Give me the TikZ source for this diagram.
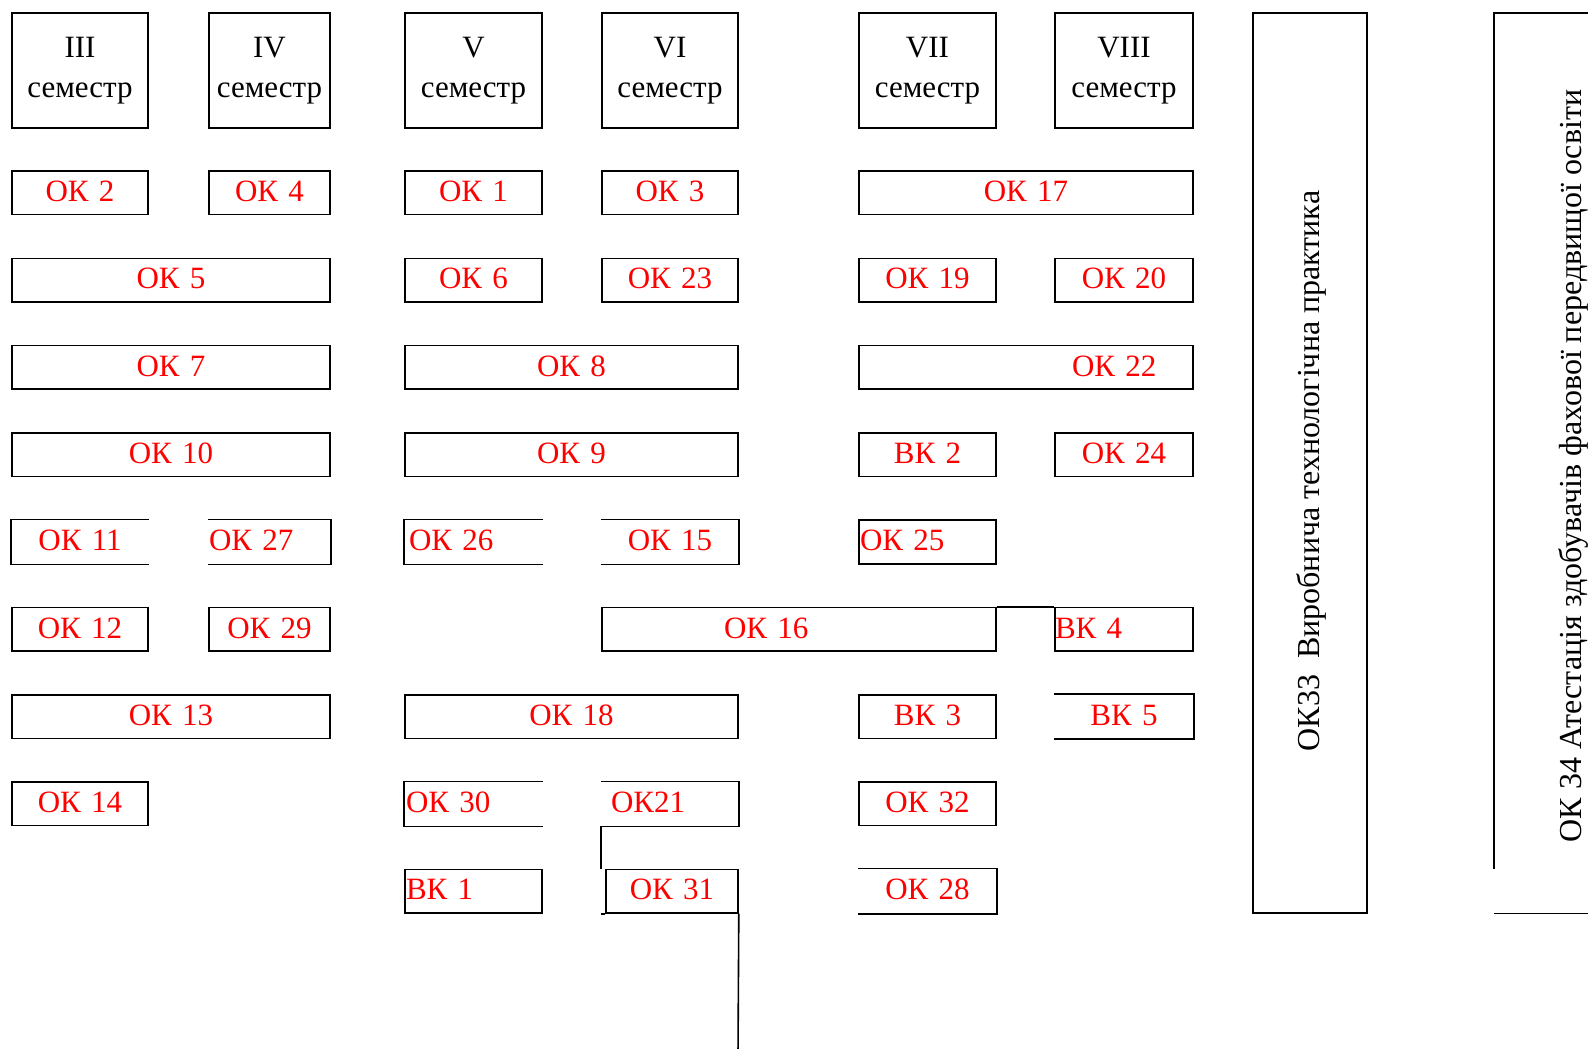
\documentclass[tikz,border=0pt]{standalone}
\usepackage{fontspec}
\setmainfont{Liberation Serif}

\tikzset{
  frame/.style={line width=1.6pt},
  cell/.style={draw, frame, inner sep=0pt, minimum height=43.5pt,
    text height=22pt, text depth=4.5pt, text=red,
    font=\fontsize{31}{37}\selectfont, align=center},
  bare/.style={draw=none},
  head/.style={draw, frame, inner sep=0pt, minimum height=115pt,
    font=\fontsize{31}{40}\selectfont, align=center},
  vtext/.style={rotate=90, anchor=base, inner sep=0pt,
    font=\fontsize{32}{38}\selectfont}
}
% boxes with one side left open
\newcommand\boxopenR[1]{\draw[frame] (#1.north east) -- (#1.north west) -- (#1.south west) -- (#1.south east);}
\newcommand\boxopenL[1]{\draw[frame] (#1.north west) -- (#1.north east) -- (#1.south east) -- (#1.south west);}

\begin{document}
\begin{tikzpicture}[x=1pt,y=-1pt]
\useasboundingbox (0,0) rectangle (1588,1049);

% semester headers
\node[head, text width=136pt] (s3) at (80,70.5)   {III\\семестр};
\node[head, text width=121pt] (s4) at (269.5,70.5) {IV\\семестр};
\node[head, text width=137pt] (s5) at (473.5,70.5) {V\\семестр};
\node[head, text width=136pt] (s6) at (670,70.5)   {VI\\семестр};
\node[head, text width=137pt] (s7) at (927.5,70.5) {VII\\семестр};
\node[head, text width=138pt] (s8) at (1124,70.5)  {VIII\\семестр};

% row 1
\node[cell, text width=136pt] (ok2)  at (80,192.75)    {ОК 2};
\node[cell, text width=121pt] (ok4)  at (269.5,192.75) {ОК 4};
\node[cell, text width=137pt] (ok1)  at (473.5,192.75) {ОК 1};
\node[cell, text width=136pt] (ok3)  at (670,192.75)   {ОК 3};
\node[cell, text width=334pt] (ok17) at (1026,192.75)  {ОК 17};

% row 2
\node[cell, text width=318pt] (ok5)  at (171,280.05)   {ОК 5};
\node[cell, text width=137pt] (ok6)  at (473.5,280.05) {ОК 6};
\node[cell, text width=136pt] (ok23) at (670,280.05)   {ОК 23};
\node[cell, text width=137pt] (ok19) at (927.5,280.05) {ОК 19};
\node[cell, text width=138pt] (ok20) at (1124,280.05)  {ОК 20};

% row 3
\node[cell, text width=318pt] (ok7)  at (171,367.35)   {ОК 7};
\node[cell, text width=333pt] (ok8)  at (571.5,367.35) {ОК 8};
\node[cell, text width=334pt, align=left] (ok22) at (1026,367.35) {\hspace*{213pt}ОК 22};

% row 4
\node[cell, text width=318pt] (ok10) at (171,454.65)   {ОК 10};
\node[cell, text width=333pt] (ok9)  at (571.5,454.65) {ОК 9};
\node[cell, text width=137pt] (vk2)  at (927.5,454.65) {ВК 2};
\node[cell, text width=138pt] (ok24) at (1124,454.65)  {ОК 24};

% row 5
\node[cell, bare, text width=136pt] (ok11) at (80,541.95) {ОК 11};
\node[cell, bare, text width=121pt, align=left] (ok27) at (269.5,541.95) {ОК 27};
\node[cell, bare, text width=137pt, align=left] (ok26) at (473.5,541.95) {\hspace*{4pt}ОК 26};
\node[cell, bare, text width=136pt] (ok15) at (670,541.95) {ОК 15};
\node[cell, text width=137pt, align=left] (ok25) at (927.5,541.95) {\hspace*{1pt}ОК 25};
\boxopenR{ok11}
\boxopenL{ok27}
\boxopenR{ok26}
\boxopenL{ok15}

% row 6
\node[cell, text width=136pt] (ok12) at (80,629.25)    {ОК 12};
\node[cell, text width=121pt] (ok29) at (269.5,629.25) {ОК 29};
\node[cell, text width=394pt, align=left] (ok16) at (799,629.25) {\hspace*{122pt}ОК 16};
\node[cell, text width=138pt, align=left] (vk4)  at (1124,629.25) {ВК 4};
\draw[frame] (ok16.north east) -- (vk4.north west);

% row 7
\node[cell, text width=318pt] (ok13) at (171,716.55)   {ОК 13};
\node[cell, text width=333pt] (ok18) at (571.5,716.55) {ОК 18};
\node[cell, text width=137pt] (vk3)  at (927.5,716.55) {ВК 3};
\node[cell, bare, text width=138pt] (vk5) at (1124,716.55) {ВК 5};
\boxopenL{vk5}

% row 8
\node[cell, text width=136pt] (ok14) at (80,803.85) {ОК 14};
\node[cell, bare, text width=137pt, align=left] (ok30) at (473.5,803.85) {\hspace*{1pt}ОК 30};
\node[cell, bare, text width=136pt, align=left] (ok21) at (670,803.85) {\hspace*{9pt}ОК21};
\node[cell, text width=137pt] (ok32) at (927.5,803.85) {ОК 32};
\boxopenR{ok30}
\boxopenL{ok21}

% row 9
\node[cell, text width=137pt, align=left] (vk1) at (473.5,891.15) {\hspace*{1pt}ВК 1};
\node[cell, text width=132pt] (ok31) at (672,891.15) {ОК 31};
\node[cell, bare, text width=137pt] (ok28) at (927.5,891.15) {ОК 28};
\boxopenL{ok28}

% links around ОК21 / ОК 31
\coordinate (tail) at (738,1055);
\draw[frame] (ok21.south west) -- (ok21.south west |- ok31.north);
\draw[frame] (ok31.south west) -- (ok21.south west |- ok31.south);
\draw[frame] (ok31.south east) -- (tail);

% practice block
\node[draw, frame, inner sep=0pt, minimum width=114pt, minimum height=900pt] (prbox) at (1310,463) {};
\node[vtext] (prtext) at (1319,471) {ОК33\ \ Виробнича технологічна практика};

% attestation block, running off the right edge
\coordinate (atr) at (1600,13);
\coordinate (atl) at (1494,13);
\coordinate (atm) at (1494,869);
\coordinate (atb) at (1494,913.5);
\coordinate (atbr) at (1600,913.5);
\draw[frame] (atr) -- (atl) -- (atm);
\draw[frame] (atb) -- (atbr);
\node[vtext] (attext) at (1581,466) {ОК 34 Атестація здобувачів фахової передвищої освіти};
\end{tikzpicture}
\end{document}
